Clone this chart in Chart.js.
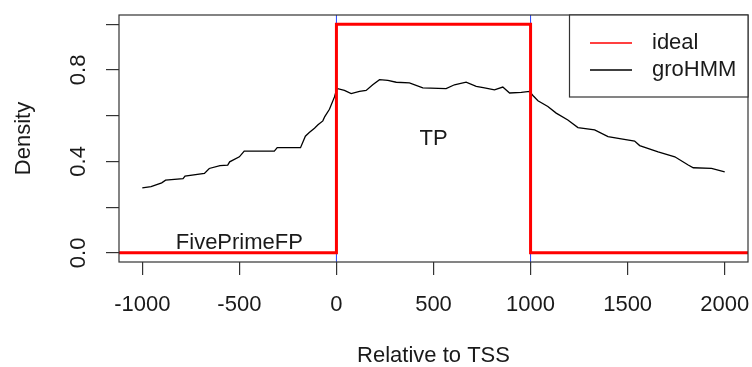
<!DOCTYPE html>
<html>
<head>
<meta charset="utf-8">
<script src="https://cdn.jsdelivr.net/npm/chart.js@4"></script>
<style>
  html, body { margin: 0; padding: 0; background: #fff; }
  canvas { display: block; }
</style>
</head>
<body>
<canvas id="c" width="752" height="367"></canvas>
<script>
// ---- data ----
const xTicks = [-1000, -500, 0, 500, 1000, 1500, 2000];
const yTicks = [0, 0.2, 0.4, 0.6, 0.8, 1.0];
const yTickLabels = ['0.0', '', '0.4', '', '0.8', ''];
const idealX = [-1200, 0, 0, 1000, 1000, 2200];
const idealY = [0, 0, 1, 1, 0, 0];
const tssLines = [0, 1000];
const groX = [-1000,-955,-900,-880,-790,-780,-680,-655,-600,-560,
              -550,-500,-475,-320,-305,-185,-160,-140,-113,-95,
              -70,-60,-36,-10,0,7,41,76,119,153,
              187,222,265,308,376,445,565,608,668,720,
              763,814,857,892,952,995,1012,1038,1089,1132,
              1192,1244,1330,1399,1467,1536,1562,1657,1743,1812,
              1838,1932,2000];
const groY = [0.284,0.290,0.306,0.318,0.325,0.336,0.347,0.369,0.381,0.384,
              0.398,0.420,0.445,0.445,0.460,0.460,0.510,0.526,0.545,0.560,
              0.577,0.596,0.628,0.682,0.712,0.718,0.710,0.696,0.706,0.710,
              0.735,0.757,0.754,0.746,0.743,0.721,0.718,0.735,0.746,0.728,
              0.721,0.713,0.725,0.699,0.702,0.706,0.688,0.665,0.640,0.611,
              0.581,0.548,0.538,0.508,0.498,0.489,0.469,0.442,0.420,0.384,
              0.372,0.369,0.354];
const annotations = [
  { text: 'FivePrimeFP', x: -500, y: 0.045 },
  { text: 'TP', x: 500, y: 0.5 }
];
const legendItems = [
  { label: 'ideal', color: '#ff0000' },
  { label: 'groHMM', color: '#000000' }
];
const xTitle = 'Relative to TSS';
const yTitle = 'Density';

const FONT = "'Liberation Sans', Arial, Helvetica, sans-serif";
const TXT = '#1a1a1a';

const toPts = (xs, ys) => xs.map((x, i) => ({ x: x, y: ys[i] }));

const datasets = [];
datasets.push({
  label: 'ideal', data: toPts(idealX, idealY),
  borderColor: '#ff0000', borderWidth: 3, pointRadius: 0, fill: false,
  tension: 0, clip: 0, order: 1
});
datasets.push({
  label: 'groHMM', data: toPts(groX, groY),
  borderColor: '#000000', borderWidth: 1.3, pointRadius: 0, fill: false,
  tension: 0, clip: 0, order: 2
});
tssLines.forEach(v => {
  datasets.push({
    label: 'tss' + v, data: [{ x: v, y: -0.1 }, { x: v, y: 1.1 }],
    borderColor: '#2244ff', borderWidth: 1, pointRadius: 0, fill: false,
    clip: 0, order: 3
  });
});

const overlay = {
  id: 'overlay',
  afterDraw(chart) {
    const { ctx, chartArea: a, scales: { x, y } } = chart;
    ctx.save();
    // frame
    ctx.strokeStyle = '#333';
    ctx.lineWidth = 1.2;
    ctx.strokeRect(a.left, a.top, a.right - a.left, a.bottom - a.top);

    // y tick labels (rotated, R style)
    ctx.fillStyle = TXT;
    ctx.font = '22px ' + FONT;
    ctx.textAlign = 'center';
    ctx.textBaseline = 'middle';
    yTicks.forEach((v, i) => {
      if (!yTickLabels[i]) return;
      const py = y.getPixelForValue(v);
      ctx.save();
      ctx.translate(79, py);
      ctx.rotate(-Math.PI / 2);
      ctx.fillText(yTickLabels[i], 0, 0);
      ctx.restore();
    });
    // y title
    ctx.save();
    ctx.translate(24, (a.top + a.bottom) / 2);
    ctx.rotate(-Math.PI / 2);
    ctx.fillText(yTitle, 0, 0);
    ctx.restore();

    // annotations
    annotations.forEach(t => {
      ctx.fillText(t.text, x.getPixelForValue(t.x), y.getPixelForValue(t.y));
    });

    // legend
    const lx = 569.5, ly = 15, lw = a.right - lx, lh = 82;
    ctx.fillStyle = '#fff';
    ctx.fillRect(lx, ly, lw, lh);
    ctx.strokeStyle = '#333';
    ctx.lineWidth = 1.2;
    ctx.strokeRect(lx, ly, lw, lh);
    ctx.textAlign = 'left';
    ctx.textBaseline = 'middle';
    legendItems.forEach((it, i) => {
      const cy = 43 + i * 27;
      ctx.strokeStyle = it.color;
      ctx.lineWidth = 1.5;
      ctx.beginPath();
      ctx.moveTo(590, cy);
      ctx.lineTo(632, cy);
      ctx.stroke();
      ctx.fillStyle = TXT;
      ctx.fillText(it.label, 652, cy);
    });
    ctx.restore();
  }
};

new Chart(document.getElementById('c'), {
  type: 'line',
  data: { datasets: datasets },
  options: {
    responsive: false,
    animation: false,
    devicePixelRatio: 1,
    layout: { padding: { top: 15, right: 4, left: 0, bottom: 0 } },
    plugins: { legend: { display: false }, tooltip: { enabled: false } },
    scales: {
      x: {
        type: 'linear', min: -1120, max: 2120,
        afterBuildTicks: s => { s.ticks = xTicks.map(v => ({ value: v })); },
        afterFit: s => { s.height = 105; s.paddingLeft = 0; s.paddingRight = 0; },
        grid: { drawOnChartArea: false, drawTicks: true, tickLength: 13, color: '#333', lineWidth: 1.2 },
        border: { display: false },
        ticks: {
          autoSkip: false, maxRotation: 0, minRotation: 0, padding: 17,
          color: TXT, font: { family: FONT, size: 22 },
          callback: v => String(v)
        },
        title: {
          display: true, text: xTitle, color: TXT,
          font: { family: FONT, size: 22 }, padding: { top: 0, bottom: -2 }
        }
      },
      y: {
        type: 'linear', min: -0.04, max: 1.04,
        afterBuildTicks: s => { s.ticks = yTicks.map(v => ({ value: v })); },
        afterFit: s => { s.width = 119; s.paddingTop = 0; s.paddingBottom = 0; },
        grid: { drawOnChartArea: false, drawTicks: true, tickLength: 13, color: '#333', lineWidth: 1.2 },
        border: { display: false },
        ticks: { display: false }
      }
    }
  },
  plugins: [overlay]
});
</script>
</body>
</html>
